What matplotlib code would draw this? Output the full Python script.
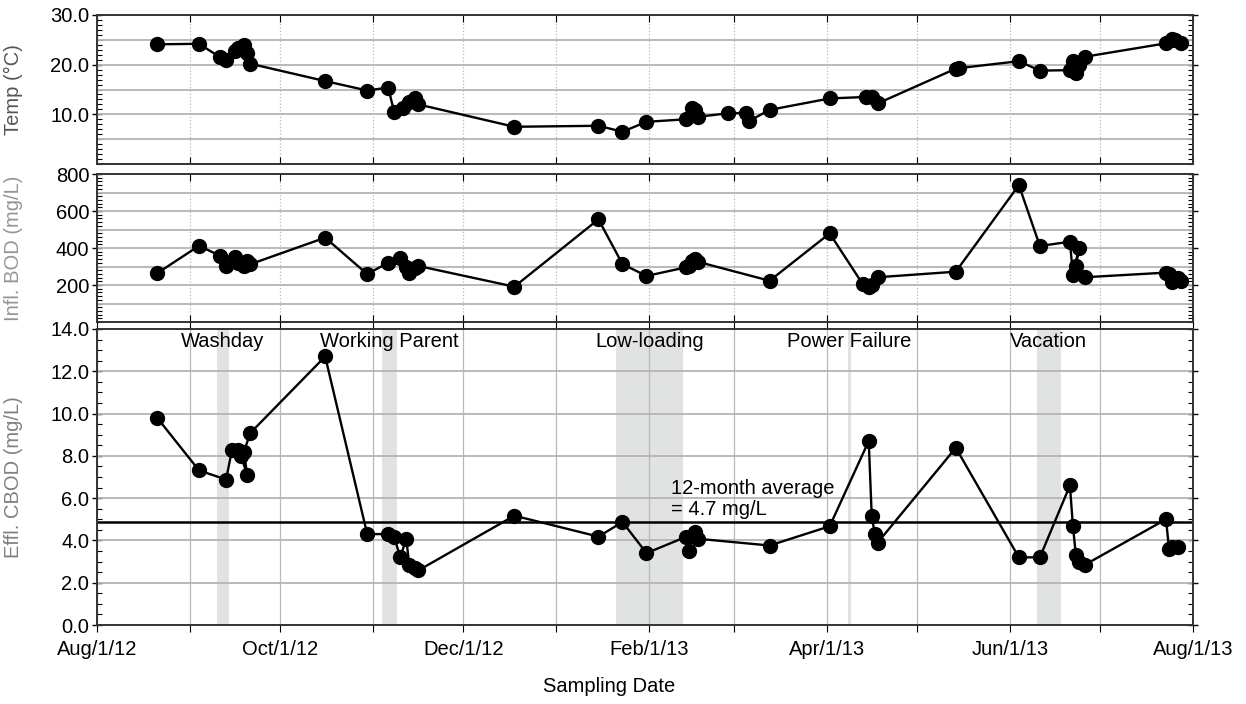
import numpy as np
import pandas as pd
import matplotlib
matplotlib.use("Agg")
import matplotlib.pyplot as plt
import matplotlib.dates as mdates
from matplotlib.ticker import MultipleLocator, FormatStrFormatter, FuncFormatter

plt.rcParams['font.family'] = ['Liberation Sans', 'DejaVu Sans']

# --- data ---
temp_dates = ["2012-08-21", "2012-09-04", "2012-09-11", "2012-09-13", "2012-09-16",
              "2012-09-17", "2012-09-19", "2012-09-20", "2012-09-21", "2012-10-16",
              "2012-10-30", "2012-11-06", "2012-11-08", "2012-11-11", "2012-11-13",
              "2012-11-15", "2012-11-16", "2012-12-18", "2013-01-15", "2013-01-23",
              "2013-01-31", "2013-02-13", "2013-02-15", "2013-02-16", "2013-02-17",
              "2013-02-27", "2013-03-05", "2013-03-06", "2013-03-13", "2013-04-02",
              "2013-04-14", "2013-04-16", "2013-04-18", "2013-05-14", "2013-05-15",
              "2013-06-04", "2013-06-11", "2013-06-21", "2013-06-22", "2013-06-23",
              "2013-06-24", "2013-06-26", "2013-07-23", "2013-07-25", "2013-07-26",
              "2013-07-28"]
temp_vals = [24.1, 24.2, 21.5, 20.9, 22.7,
             23.4, 24.0, 22.3, 20.2, 16.7,
             14.8, 15.4, 10.4, 11.3, 12.5,
             13.3, 12.0, 7.5, 7.7, 6.5,
             8.5, 9.0, 11.2, 10.9, 9.5,
             10.2, 10.3, 8.6, 10.9, 13.2,
             13.5, 13.4, 12.2, 19.2, 19.3,
             20.7, 18.8, 18.9, 20.7, 18.4,
             19.9, 21.6, 24.3, 25.2, 25.0,
             24.3]

bod_dates = ["2012-08-21", "2012-09-04", "2012-09-11", "2012-09-13", "2012-09-16",
             "2012-09-17", "2012-09-19", "2012-09-20", "2012-09-21", "2012-10-16",
             "2012-10-30", "2012-11-06", "2012-11-10", "2012-11-12", "2012-11-13",
             "2012-11-15", "2012-11-16", "2012-12-18", "2013-01-15", "2013-01-23",
             "2013-01-31", "2013-02-13", "2013-02-14", "2013-02-15", "2013-02-16",
             "2013-02-17", "2013-03-13", "2013-04-02", "2013-04-13", "2013-04-15",
             "2013-04-16", "2013-04-18", "2013-05-14", "2013-06-04", "2013-06-11",
             "2013-06-21", "2013-06-22", "2013-06-24", "2013-06-23", "2013-06-26",
             "2013-07-23", "2013-07-24", "2013-07-25", "2013-07-27", "2013-07-28"]
bod_vals = [263, 412, 358, 304, 350,
            320, 304, 330, 312, 456,
            259, 321, 348, 300, 263,
            290, 303, 191, 555, 313,
            249, 295, 303, 330, 339,
            326, 223, 479, 205, 188,
            200, 242, 272, 740, 411,
            434, 256, 398, 305, 242,
            267, 258, 218, 240, 222]

cbod_dates = ["2012-08-21", "2012-09-04", "2012-09-13", "2012-09-15", "2012-09-17",
              "2012-09-18", "2012-09-20", "2012-09-19", "2012-09-21", "2012-10-16",
              "2012-10-30", "2012-11-06", "2012-11-08", "2012-11-10", "2012-11-12",
              "2012-11-13", "2012-11-15", "2012-11-16", "2012-12-18", "2013-01-15",
              "2013-01-23", "2013-01-31", "2013-02-13", "2013-02-14", "2013-02-16",
              "2013-02-17", "2013-03-13", "2013-04-02", "2013-04-15", "2013-04-16",
              "2013-04-17", "2013-04-18", "2013-05-14", "2013-06-04", "2013-06-11",
              "2013-06-21", "2013-06-22", "2013-06-23", "2013-06-24", "2013-06-26",
              "2013-07-23", "2013-07-24", "2013-07-25", "2013-07-27"]
cbod_vals = [9.81, 7.31, 6.88, 8.3, 8.3,
             8.0, 7.1, 8.2, 9.07, 12.7,
             4.3, 4.3, 4.16, 3.2, 4.08,
             2.85, 2.7, 2.58, 5.17, 4.18,
             4.87, 3.4, 4.16, 3.48, 4.4,
             4.08, 3.76, 4.67, 8.7, 5.17,
             4.32, 3.9, 8.38, 3.2, 3.2,
             6.6, 4.67, 3.29, 3.0, 2.85,
             5.0, 3.6, 3.67, 3.67]

avg_cbod = 4.85
avg_text = "12-month average\n= 4.7 mg/L"

event_names = ["Washday", "Working Parent", "Low-loading", "Power Failure", "Vacation"]
event_start = ["2012-09-10", "2012-11-04", "2013-01-21", "2013-04-08", "2013-06-10"]
event_end = ["2012-09-14", "2012-11-09", "2013-02-12", "2013-04-09", "2013-06-18"]

x_start, x_end = pd.Timestamp("2012-08-01"), pd.Timestamp("2013-08-01")

FS = 14.5


def date_label(x, pos=None):
    d = mdates.num2date(x)
    if d.month % 2 == 0:
        return f"{d:%b}/{d.day}/{d:%y}"
    return ""


def style_axis(ax, ymin, ymax, yticks, minor, fmt, grid_step, vgrid_style):
    ax.set_xlim(x_start, x_end)
    ax.set_ylim(ymin, ymax)
    ax.xaxis.set_major_locator(mdates.MonthLocator())
    ax.set_yticks(yticks)
    ax.yaxis.set_minor_locator(MultipleLocator(minor))
    ax.yaxis.set_major_formatter(FormatStrFormatter(fmt))
    for y in np.arange(ymin + grid_step, ymax, grid_step):
        ax.axhline(y, color='#b4b4b4', lw=1.3, zorder=0.6)
    ax.grid(axis='x', color='#b8b8b8', lw=0.9, ls=vgrid_style)
    ax.set_axisbelow(True)
    ax.tick_params(axis='y', which='major', direction='inout', length=7, width=1,
                   labelsize=FS, right=True, pad=2)
    ax.tick_params(axis='y', which='minor', direction='in', length=3.5, width=0.8,
                   right=True)
    for s in ax.spines.values():
        s.set_linewidth(1.4)
        s.set_color('#333333')


fig = plt.figure(figsize=(12.46, 7.04), dpi=100)
ax1 = fig.add_axes([0.0778, 0.767, 0.8797, 0.2117])
ax2 = fig.add_axes([0.0778, 0.5426, 0.8797, 0.2102])
ax3 = fig.add_axes([0.0778, 0.1122, 0.8797, 0.4205])

line_kw = dict(color='black', lw=1.7, marker='o', markersize=10, zorder=3)

# temperature
ax1.plot(pd.to_datetime(temp_dates), temp_vals, **line_kw)
style_axis(ax1, 0, 30, [10, 20, 30], 1, '%.1f', 5, ':')
ax1.tick_params(axis='x', direction='in', length=5, top=True, labelbottom=False)
ax1.set_ylabel("Temp (°C)", fontsize=FS, color='#555555')

# influent BOD
ax2.plot(pd.to_datetime(bod_dates), bod_vals, **line_kw)
style_axis(ax2, 0, 800, [200, 400, 600, 800], 20, '%d', 100, ':')
ax2.tick_params(axis='x', direction='in', length=5, top=True, labelbottom=False)
ax2.set_ylabel("Infl. BOD (mg/L)", fontsize=FS, color='#959595')

# effluent CBOD
for s, e in zip(event_start, event_end):
    ax3.axvspan(pd.Timestamp(s), pd.Timestamp(e), color='#e1e3e3', lw=0, zorder=0.2)
ax3.plot(pd.to_datetime(cbod_dates), cbod_vals, **line_kw)
ax3.axhline(avg_cbod, color='black', lw=1.8, zorder=2)
style_axis(ax3, 0, 14, np.arange(0, 14.1, 2), 0.5, '%.1f', 2, '-')
ax3.tick_params(axis='x', direction='out', length=5, labelsize=FS, pad=6, top=True)
ax3.xaxis.set_major_formatter(FuncFormatter(date_label))
ax3.set_ylabel("Effl. CBOD (mg/L)", fontsize=FS, color='#808080')
ax3.set_xlabel("Sampling Date", fontsize=FS)
ax3.xaxis.set_label_coords(0.467, -0.175)

for name, s, e in zip(event_names, event_start, event_end):
    mid = pd.Timestamp(s) + (pd.Timestamp(e) - pd.Timestamp(s)) / 2
    ax3.text(mid, 13.4, name, ha='center', va='center', fontsize=FS)

ax3.text(pd.Timestamp("2013-02-08"), 5.0, avg_text, ha='left', va='bottom',
         fontsize=FS, linespacing=1.15)

for ax in (ax1, ax2, ax3):
    ax.yaxis.set_label_coords(-0.0675, 0.5)

fig.savefig("out.png", dpi=100)
